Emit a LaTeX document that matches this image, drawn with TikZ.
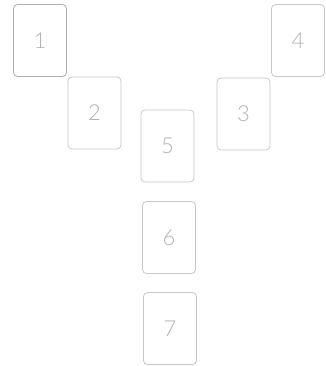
\documentclass[tikz,border=0pt]{standalone}
\usepackage{fontspec}
\setmainfont{Lato Light}
\begin{document}
\begin{tikzpicture}[x=1pt,y=1pt,
  card/.style={draw=black!22, line width=0.8pt, rounded corners=4pt,
    minimum width=53pt, minimum height=72pt, inner sep=0pt,
    text=black!30, font=\fontsize{22}{22}\selectfont},
  darkcard/.style={card, draw=black!32}]
\useasboundingbox (0,0) rectangle (325,366);
\node[darkcard] (c1) at (40,325.5) {1};
\node[card] (c2) at (94.5,253) {2};
\node[card] (c3) at (243.5,252) {3};
\node[card] (c4) at (298,325.5) {4};
\node[card] (c5) at (167.5,220) {5};
\node[card] (c6) at (169,128.5) {6};
\node[card] (c7) at (170,37.5) {7};
\end{tikzpicture}
\end{document}
